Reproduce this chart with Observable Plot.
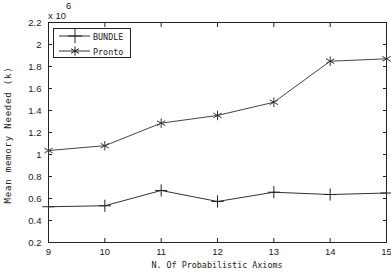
<!DOCTYPE html>
<html><head><meta charset="utf-8">
<script src="https://cdn.jsdelivr.net/npm/d3@7"></script>
<script src="https://cdn.jsdelivr.net/npm/@observablehq/plot@0.6"></script>
<style>
body{margin:0;background:#fff;}
#chart{position:relative;width:391px;height:278px;}
</style>
</head><body><div id="chart"></div>
<script>
const axioms = [9, 10, 11, 12, 13, 14, 15];
const bundle = [0.525, 0.534, 0.673, 0.573, 0.657, 0.636, 0.650];
const pronto = [1.036, 1.080, 1.285, 1.355, 1.475, 1.848, 1.870];
const seriesNames = ["BUNDLE", "Pronto"];
const yTicks = [0.2, 0.4, 0.6, 0.8, 1, 1.2, 1.4, 1.6, 1.8, 2, 2.2];
const xLabel = "N. Of Probabilistic Axioms";
const yLabel = "Mean memory Needed (k)";
const expLabel = "x 10";
const expPower = "6";

const data = axioms.flatMap((a, i) => [
  {x: a, y: bundle[i], s: seriesNames[0]},
  {x: a, y: pronto[i], s: seriesNames[1]}
]);
const B = data.filter(d => d.s === seriesNames[0]);
const P = data.filter(d => d.s === seriesNames[1]);

const font = "Liberation Sans, Arial, sans-serif";
const mono = "DejaVu Sans Mono, monospace";
const fmt = d => d3.format("~g")(d);

const plot = Plot.plot({
  width: 391, height: 278,
  marginLeft: 48, marginRight: 5, marginTop: 22, marginBottom: 36,
  style: {fontFamily: font, fontSize: "9px", background: "#fff", color: "#222"},
  x: {domain: [9, 15], ticks: axioms},
  y: {domain: [0.2, 2.2], ticks: yTicks},
  marks: [
    Plot.frame({stroke: "#222", strokeWidth: 1}),
    Plot.axisX({anchor: "bottom", ticks: axioms, tickSize: -4, tickPadding: 10, tickFormat: fmt, label: null, fontSize: 9.5}),
    Plot.axisX({anchor: "top", ticks: axioms, tickSize: -4, tickFormat: () => "", label: null}),
    Plot.axisY({anchor: "left", ticks: yTicks, tickSize: -4, tickPadding: 11, tickFormat: fmt, label: null, fontSize: 9.5}),
    Plot.axisY({anchor: "right", ticks: yTicks, tickSize: -4, tickFormat: () => "", label: null}),
    Plot.line(B, {x: "x", y: "y", stroke: "#333", strokeWidth: 1}),
    Plot.line(P, {x: "x", y: "y", stroke: "#444", strokeWidth: 1}),
    Plot.dot(B, {x: "x", y: "y", symbol: "plus", r: 4, stroke: "#222", strokeWidth: 1}),
    Plot.dot(P, {x: "x", y: "y", symbol: "asterisk", r: 4.5, stroke: "#333", strokeWidth: 1})
  ]
});
document.getElementById("chart").appendChild(plot);

const svg = d3.select(plot);
const ann = svg.append("g").attr("text-anchor", "start").attr("fill", "#222");
ann.append("text").attr("x", 217).attr("y", 268).attr("text-anchor", "middle")
  .style("font-family", mono).style("font-size", "8.4px").text(xLabel);
ann.append("text").attr("transform", "translate(11,135) rotate(-90)").attr("text-anchor", "middle")
  .style("font-family", mono).style("font-size", "9px").style("letter-spacing", "0.8px").text(yLabel);
ann.append("text").attr("x", 48).attr("y", 19).attr("text-anchor", "start")
  .style("font-family", font).style("font-size", "9.5px").text(expLabel);
ann.append("text").attr("x", 66).attr("y", 9).attr("text-anchor", "start")
  .style("font-family", font).style("font-size", "9.5px").text(expPower);

const lg = svg.append("g");
lg.append("rect").attr("x", 53.5).attr("y", 28.5).attr("width", 77).attr("height", 29)
  .style("fill", "#fff").style("stroke", "#222").style("stroke-width", "1px");
const rows = [
  {name: seriesNames[0], y: 36, sym: d3.symbolPlus, size: 70},
  {name: seriesNames[1], y: 51, sym: d3.symbolAsterisk, size: 60}
];
rows.forEach(r => {
  lg.append("line").attr("x1", 59).attr("x2", 90).attr("y1", r.y).attr("y2", r.y)
    .style("stroke", "#333").style("stroke-width", "1px");
  lg.append("path").attr("transform", `translate(75,${r.y})`)
    .attr("d", d3.symbol(r.sym, r.size)())
    .style("fill", "none").style("stroke", "#222").style("stroke-width", "1px");
  lg.append("text").attr("x", 93).attr("y", r.y + 3.5).attr("text-anchor", "start")
    .style("fill", "#222").style("font-family", mono).style("font-size", "8.4px").text(r.name);
});
</script>
</body></html>
